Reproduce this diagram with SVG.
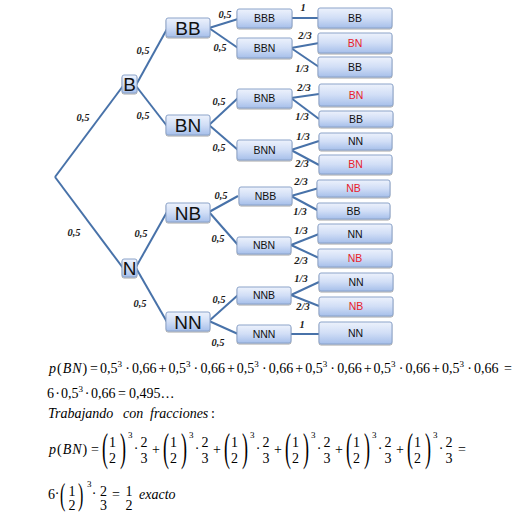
<svg xmlns="http://www.w3.org/2000/svg" width="532" height="515" viewBox="0 0 532 515">
<defs>
<linearGradient id="g" x1="0" y1="0" x2="0" y2="1">
<stop offset="0" stop-color="#edf2fc"/>
<stop offset="0.5" stop-color="#d1def6"/>
<stop offset="1" stop-color="#a6bfea"/>
</linearGradient>
<filter id="sh" x="-10%" y="-20%" width="120%" height="160%">
<feDropShadow dx="0" dy="1" stdDeviation="0.7" flood-color="#000" flood-opacity="0.35"/>
</filter>
<style>
.box{fill:url(#g);stroke:#8ba3c9;stroke-width:1;filter:url(#sh)}
.edge{stroke:#4872a9;stroke-width:2;fill:none}
.lbl{font-family:"Liberation Serif",serif;font-style:italic;font-weight:bold;font-size:10.5px;fill:#1a1a1a;text-anchor:middle}
.big{font-family:"Liberation Sans",sans-serif;font-size:19px;fill:#111;text-anchor:middle}
.sm{font-family:"Liberation Sans",sans-serif;font-size:10.5px;fill:#111;text-anchor:middle}
.red{fill:#e8202b}
.m{font-family:"Liberation Serif",serif;font-size:14px;fill:#000}
.it{font-style:italic}
.sup{font-family:"Liberation Serif",serif;font-size:9px;fill:#000}
.c{text-anchor:middle}
.p1{font-family:"Liberation Serif",serif;font-size:40px;fill:#000}
.p2{font-family:"Liberation Serif",serif;font-size:32px;fill:#000}
</style>
</defs>
<rect width="532" height="515" fill="#fff"/>

<g id="connectors">
<line class="edge" x1="55" y1="177" x2="123" y2="86"/>
<line class="edge" x1="55" y1="177" x2="123" y2="268"/>
<line class="edge" x1="136" y1="85" x2="167" y2="29"/>
<line class="edge" x1="136" y1="86" x2="167" y2="126"/>
<line class="edge" x1="136" y1="267" x2="167" y2="212"/>
<line class="edge" x1="136" y1="268" x2="167" y2="322"/>
<line class="edge" x1="209" y1="28" x2="238" y2="19"/>
<line class="edge" x1="209" y1="28" x2="238" y2="48"/>
<line class="edge" x1="209" y1="125" x2="238" y2="98"/>
<line class="edge" x1="209" y1="125" x2="238" y2="150"/>
<line class="edge" x1="209" y1="212" x2="238" y2="196"/>
<line class="edge" x1="209" y1="212" x2="238" y2="245"/>
<line class="edge" x1="209" y1="321" x2="238" y2="295"/>
<line class="edge" x1="209" y1="321" x2="238" y2="334"/>
<line class="edge" x1="291" y1="18" x2="319" y2="18"/>
<line class="edge" x1="291" y1="48" x2="319" y2="43"/>
<line class="edge" x1="291" y1="48" x2="319" y2="67"/>
<line class="edge" x1="291" y1="98" x2="319" y2="94"/>
<line class="edge" x1="291" y1="98" x2="319" y2="119"/>
<line class="edge" x1="291" y1="150" x2="319" y2="141"/>
<line class="edge" x1="291" y1="150" x2="319" y2="165"/>
<line class="edge" x1="291" y1="196" x2="319" y2="188"/>
<line class="edge" x1="291" y1="196" x2="319" y2="211"/>
<line class="edge" x1="291" y1="245" x2="319" y2="234"/>
<line class="edge" x1="291" y1="245" x2="319" y2="258"/>
<line class="edge" x1="291" y1="295" x2="319" y2="282"/>
<line class="edge" x1="291" y1="295" x2="319" y2="306"/>
<line class="edge" x1="291" y1="334" x2="319" y2="334"/>
<text class="lbl" x="83" y="121">0,5</text>
<text class="lbl" x="74" y="236">0,5</text>
<text class="lbl" x="143" y="54">0,5</text>
<text class="lbl" x="143" y="119">0,5</text>
<text class="lbl" x="141" y="237">0,5</text>
<text class="lbl" x="140" y="307">0,5</text>
<text class="lbl" x="225" y="18">0,5</text>
<text class="lbl" x="220" y="51">0,5</text>
<text class="lbl" x="219" y="105">0,5</text>
<text class="lbl" x="219" y="151">0,5</text>
<text class="lbl" x="221" y="199">0,5</text>
<text class="lbl" x="218" y="242">0,5</text>
<text class="lbl" x="219" y="303">0,5</text>
<text class="lbl" x="218" y="346">0,5</text>
<text class="lbl" x="303" y="11">1</text>
<text class="lbl" x="305" y="39">2/3</text>
<text class="lbl" x="302" y="72">1/3</text>
<text class="lbl" x="304" y="91">2/3</text>
<text class="lbl" x="302" y="120">1/3</text>
<text class="lbl" x="303" y="140">1/3</text>
<text class="lbl" x="302" y="167">2/3</text>
<text class="lbl" x="301" y="185">2/3</text>
<text class="lbl" x="300" y="215">1/3</text>
<text class="lbl" x="301" y="234">1/3</text>
<text class="lbl" x="301" y="264">2/3</text>
<text class="lbl" x="301" y="282">1/3</text>
<text class="lbl" x="303" y="310">2/3</text>
<text class="lbl" x="302" y="328">1</text>
</g>

<g id="B"><rect class="box" x="122" y="75" width="15" height="18" rx="2"/><text class="big" x="129.5" y="91">B</text></g>
<g id="N"><rect class="box" x="122" y="259" width="15" height="18" rx="2"/><text class="big" x="129.5" y="275">N</text></g>

<g id="BB"><rect class="box" x="166" y="18" width="44" height="19" rx="2"/><text class="big" x="188" y="34.5">BB</text></g>
<g id="BN"><rect class="box" x="166" y="115" width="44" height="20" rx="2"/><text class="big" x="188" y="132">BN</text></g>
<g id="NB"><rect class="box" x="166" y="203" width="44" height="19" rx="2"/><text class="big" x="188" y="219.5">NB</text></g>
<g id="NN"><rect class="box" x="166" y="312" width="44" height="19" rx="2"/><text class="big" x="188" y="328.5">NN</text></g>

<g id="BBB"><rect class="box" x="237" y="9" width="55" height="19" rx="2"/><text class="sm" x="264.5" y="22">BBB</text></g>
<g id="BBN"><rect class="box" x="237" y="38" width="55" height="20" rx="2"/><text class="sm" x="264.5" y="52">BBN</text></g>
<g id="BNB"><rect class="box" x="237" y="89" width="55" height="19" rx="2"/><text class="sm" x="264.5" y="102">BNB</text></g>
<g id="BNN"><rect class="box" x="237" y="140" width="55" height="20" rx="2"/><text class="sm" x="264.5" y="154">BNN</text></g>
<g id="NBB"><rect class="box" x="239" y="187" width="53" height="18" rx="2"/><text class="sm" x="265.5" y="200">NBB</text></g>
<g id="NBN"><rect class="box" x="237" y="237" width="54" height="17" rx="2"/><text class="sm" x="264" y="249">NBN</text></g>
<g id="NNB"><rect class="box" x="237" y="287" width="54" height="17" rx="2"/><text class="sm" x="264" y="299">NNB</text></g>
<g id="NNN"><rect class="box" x="237" y="325" width="54" height="18" rx="2"/><text class="sm" x="264" y="338">NNN</text></g>

<g id="leaf1"><rect class="box" x="318" y="8" width="74" height="20" rx="2"/><text class="sm" x="355" y="22">BB</text></g>
<g id="leaf2"><rect class="box" x="318" y="33" width="74" height="20" rx="2"/><text class="sm red" x="355" y="47">BN</text></g>
<g id="leaf3"><rect class="box" x="318" y="57" width="74" height="20" rx="2"/><text class="sm" x="355" y="71">BB</text></g>
<g id="leaf4"><rect class="box" x="319" y="84" width="74" height="22" rx="2"/><text class="sm red" x="356" y="99">BN</text></g>
<g id="leaf5"><rect class="box" x="319" y="111" width="74" height="16" rx="2"/><text class="sm" x="356" y="123">BB</text></g>
<g id="leaf6"><rect class="box" x="319" y="133" width="73" height="17" rx="2"/><text class="sm" x="355.5" y="145">NN</text></g>
<g id="leaf7"><rect class="box" x="319" y="155" width="73" height="19" rx="2"/><text class="sm red" x="355.5" y="168">BN</text></g>
<g id="leaf8"><rect class="box" x="317" y="180" width="73" height="17" rx="2"/><text class="sm red" x="353.5" y="192">NB</text></g>
<g id="leaf9"><rect class="box" x="317" y="203" width="73" height="16" rx="2"/><text class="sm" x="353.5" y="215">BB</text></g>
<g id="leaf10"><rect class="box" x="318" y="224" width="74" height="19" rx="2"/><text class="sm" x="355" y="238">NN</text></g>
<g id="leaf11"><rect class="box" x="318" y="249" width="74" height="18" rx="2"/><text class="sm red" x="355" y="262">NB</text></g>
<g id="leaf12"><rect class="box" x="319" y="273" width="74" height="18" rx="2"/><text class="sm" x="356" y="286">NN</text></g>
<g id="leaf13"><rect class="box" x="319" y="297" width="74" height="19" rx="2"/><text class="sm red" x="356" y="310">NB</text></g>
<g id="leaf14"><rect class="box" x="319" y="322" width="73" height="22" rx="2"/><text class="sm" x="355.5" y="337">NN</text></g>

<g id="formula">
<text class="m it" x="49" y="373" letter-spacing="1">p<tspan font-style="normal">(</tspan>BN<tspan font-style="normal">)</tspan></text>
<text class="m" x="90" y="373">=</text>
<text class="m" x="100" y="373">0,5</text><text class="sup" x="117.5" y="367">3</text><text class="m c" x="127.5" y="373">·</text><text class="m" x="132" y="373">0,66</text><text class="m" x="158.5" y="373">+</text>
<text class="m" x="168.4" y="373">0,5</text><text class="sup" x="185.9" y="367">3</text><text class="m c" x="195.9" y="373">·</text><text class="m" x="200.4" y="373">0,66</text><text class="m" x="226.9" y="373">+</text>
<text class="m" x="236.8" y="373">0,5</text><text class="sup" x="254.3" y="367">3</text><text class="m c" x="264.3" y="373">·</text><text class="m" x="268.8" y="373">0,66</text><text class="m" x="295.3" y="373">+</text>
<text class="m" x="305.2" y="373">0,5</text><text class="sup" x="322.7" y="367">3</text><text class="m c" x="332.7" y="373">·</text><text class="m" x="337.2" y="373">0,66</text><text class="m" x="363.7" y="373">+</text>
<text class="m" x="373.6" y="373">0,5</text><text class="sup" x="391.1" y="367">3</text><text class="m c" x="401.1" y="373">·</text><text class="m" x="405.6" y="373">0,66</text><text class="m" x="432.1" y="373">+</text>
<text class="m" x="442" y="373">0,5</text><text class="sup" x="459.5" y="367">3</text><text class="m c" x="469.5" y="373">·</text><text class="m" x="474" y="373">0,66</text><text class="m" x="504" y="373">=</text>

<text class="m" x="47" y="398">6</text><text class="m c" x="57.5" y="398">·</text><text class="m" x="61" y="398">0,5</text><text class="sup" x="78.5" y="392">3</text><text class="m c" x="87" y="398">·</text><text class="m" x="91" y="398">0,66</text><text class="m" x="118" y="398">=</text><text class="m" x="129" y="398">0,495…</text>

<text class="m it" x="48" y="418">Trabajando</text><text class="m it" x="123" y="418">con</text><text class="m it" x="150" y="418">fracciones</text><text class="m" x="211" y="418">:</text>

<text class="m it" x="49" y="454" letter-spacing="1">p<tspan font-style="normal">(</tspan>BN<tspan font-style="normal">)</tspan></text>
<text class="m" x="91" y="454">=</text>
<g transform="translate(102,0)">
<text class="p1" transform="translate(0,461) scale(0.45,1)">(</text><text class="m c" x="10.5" y="447">1</text><text class="m c" x="10.5" y="463">2</text><text class="p1" transform="translate(18,461) scale(0.45,1)">)</text><text class="sup" x="26" y="438">3</text><text class="m c" x="34" y="453">·</text><text class="m c" x="42" y="447">2</text><text class="m c" x="42" y="463">3</text><text class="m" x="50" y="454">+</text>
</g>
<g transform="translate(163,0)">
<text class="p1" transform="translate(0,461) scale(0.45,1)">(</text><text class="m c" x="10.5" y="447">1</text><text class="m c" x="10.5" y="463">2</text><text class="p1" transform="translate(18,461) scale(0.45,1)">)</text><text class="sup" x="26" y="438">3</text><text class="m c" x="34" y="453">·</text><text class="m c" x="42" y="447">2</text><text class="m c" x="42" y="463">3</text><text class="m" x="50" y="454">+</text>
</g>
<g transform="translate(224,0)">
<text class="p1" transform="translate(0,461) scale(0.45,1)">(</text><text class="m c" x="10.5" y="447">1</text><text class="m c" x="10.5" y="463">2</text><text class="p1" transform="translate(18,461) scale(0.45,1)">)</text><text class="sup" x="26" y="438">3</text><text class="m c" x="34" y="453">·</text><text class="m c" x="42" y="447">2</text><text class="m c" x="42" y="463">3</text><text class="m" x="50" y="454">+</text>
</g>
<g transform="translate(285,0)">
<text class="p1" transform="translate(0,461) scale(0.45,1)">(</text><text class="m c" x="10.5" y="447">1</text><text class="m c" x="10.5" y="463">2</text><text class="p1" transform="translate(18,461) scale(0.45,1)">)</text><text class="sup" x="26" y="438">3</text><text class="m c" x="34" y="453">·</text><text class="m c" x="42" y="447">2</text><text class="m c" x="42" y="463">3</text><text class="m" x="50" y="454">+</text>
</g>
<g transform="translate(346,0)">
<text class="p1" transform="translate(0,461) scale(0.45,1)">(</text><text class="m c" x="10.5" y="447">1</text><text class="m c" x="10.5" y="463">2</text><text class="p1" transform="translate(18,461) scale(0.45,1)">)</text><text class="sup" x="26" y="438">3</text><text class="m c" x="34" y="453">·</text><text class="m c" x="42" y="447">2</text><text class="m c" x="42" y="463">3</text><text class="m" x="50" y="454">+</text>
</g>
<g transform="translate(407,0)">
<text class="p1" transform="translate(0,461) scale(0.45,1)">(</text><text class="m c" x="10.5" y="447">1</text><text class="m c" x="10.5" y="463">2</text><text class="p1" transform="translate(18,461) scale(0.45,1)">)</text><text class="sup" x="26" y="438">3</text><text class="m c" x="34" y="453">·</text><text class="m c" x="42" y="447">2</text><text class="m c" x="42" y="463">3</text><text class="m" x="51" y="454">=</text>
</g>

<text class="m" x="48" y="499">6</text><text class="m c" x="57" y="498">·</text>
<text class="p2" transform="translate(60,505) scale(0.5,1)">(</text>
<text class="m c" x="72" y="496">1</text><text class="m c" x="72" y="510">2</text>
<text class="p2" transform="translate(78,505) scale(0.5,1)">)</text>
<text class="sup" x="87" y="487">3</text><text class="m c" x="94" y="498">·</text>
<text class="m c" x="103.5" y="496">2</text><text class="m c" x="103.5" y="510">3</text>
<text class="m" x="112" y="499">=</text>
<text class="m c" x="129" y="496">1</text><text class="m c" x="129" y="510">2</text>
<text class="m it" x="139" y="499">exacto</text>
</g>
</svg>
